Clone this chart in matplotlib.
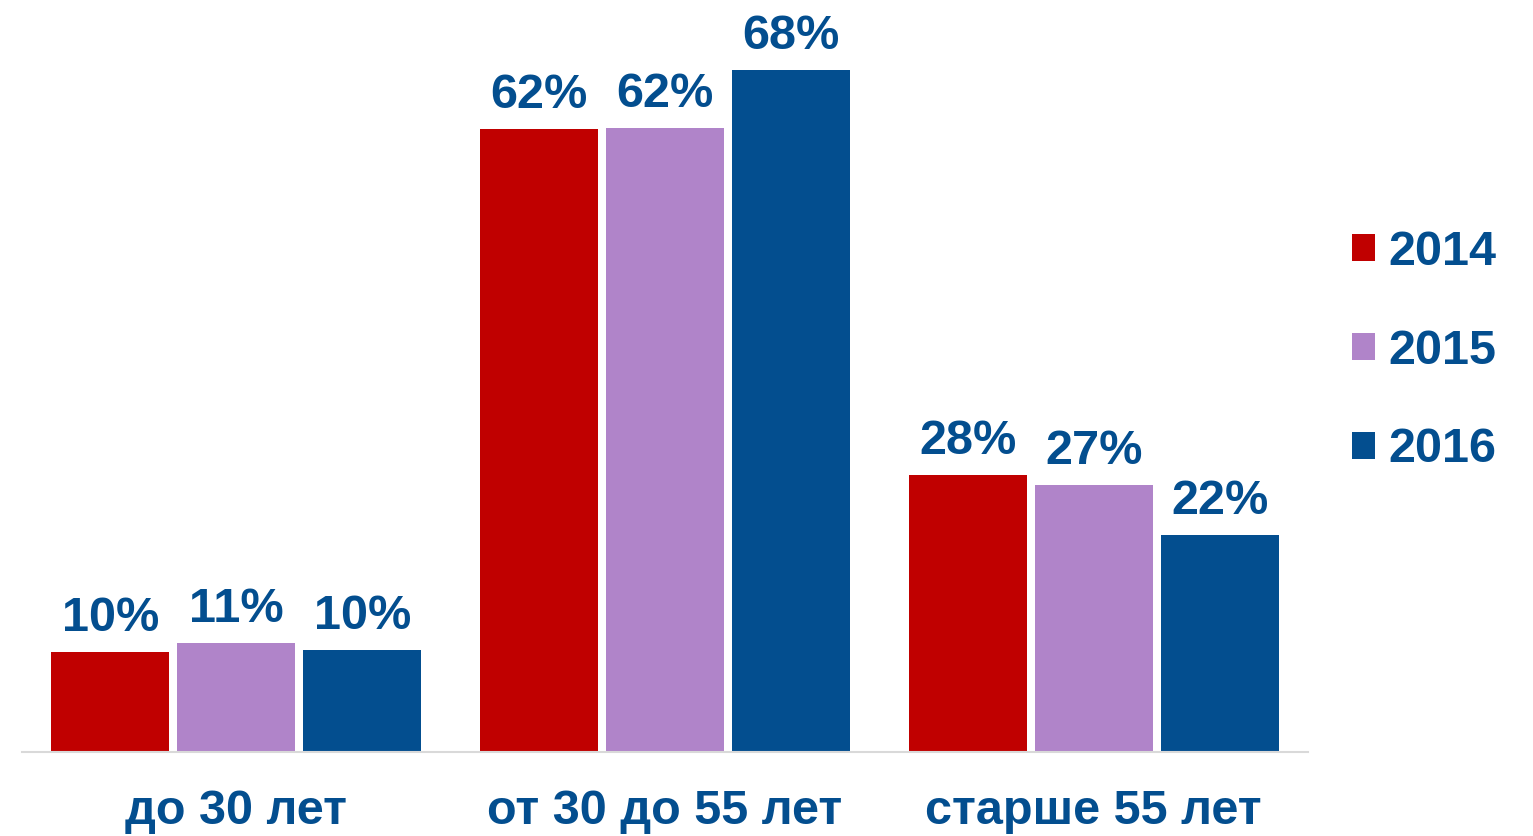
import numpy as np
import matplotlib
matplotlib.use("Agg")
import matplotlib.pyplot as plt

# данные (доли по возрастным группам)
groups = ["до 30 лет", "от 30 до 55 лет", "старше 55 лет"]
years = ["2014", "2015", "2016"]
v2014 = [10.0, 62.1, 27.6]
v2015 = [10.9, 62.2, 26.6]
v2016 = [10.2, 68.0, 21.6]

colors = ["#C00000", "#B084C9", "#034E8F"]
txt = "#034E8F"

plt.rcParams['font.family'] = ['Liberation Sans', 'DejaVu Sans']

W, H = 1533, 836
fig = plt.figure(figsize=(W / 100, H / 100), dpi=100)
ax = fig.add_axes([22 / W, 84 / H, 1286 / W, 752 / H])

x = np.arange(len(groups))
step = 126 / 429
width = 118 / 429
for i, (vals, c) in enumerate(zip([v2014, v2015, v2016], colors)):
    pos = x + (i - 1) * step
    ax.bar(pos, vals, width, color=c, label=years[i])
    for p, v in zip(pos, vals):
        ax.annotate(f"{v:.0f}%", (p, v), xytext=(0, 8), textcoords="offset points",
                    ha="center", va="bottom", fontsize=35, fontweight="bold", color=txt)

ax.set_xlim(-0.5, 2.5)
ax.set_ylim(0, 75)
ax.set_yticks([])
ax.set_xticks(x)
ax.set_xticklabels(groups, fontsize=35, fontweight="bold", color=txt)
ax.tick_params(axis="x", length=0, pad=27)
for s in ["top", "right", "left"]:
    ax.spines[s].set_visible(False)
ax.spines["bottom"].set_color("#D9D9D9")
ax.spines["bottom"].set_linewidth(1.5)

leg = fig.legend(loc="center left", bbox_to_anchor=(1352 / W, 1 - 351 / H), frameon=False,
                 prop={"size": 35, "weight": "bold"}, handlelength=0.47, handleheight=0.47,
                 handletextpad=0.27, labelspacing=1.11, borderpad=0, borderaxespad=0)
for t in leg.get_texts():
    t.set_color(txt)

fig.savefig("out.png", dpi=100)
